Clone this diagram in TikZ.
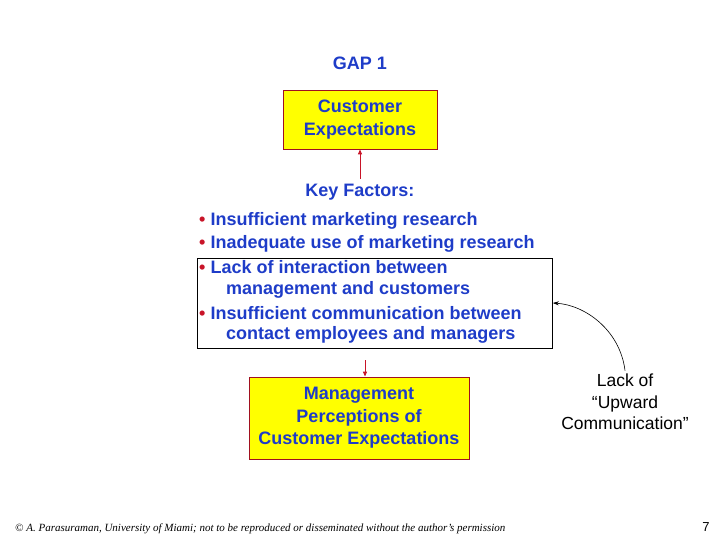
\documentclass[tikz,border=0pt]{standalone}
\usepackage{fontspec}
\setmainfont{Liberation Sans}
\newfontfamily\serifit{Liberation Serif}
\usetikzlibrary{arrows.meta}
\definecolor{tblue}{RGB}{30,60,200}
\definecolor{bred}{RGB}{200,20,40}
\definecolor{byel}{RGB}{255,255,0}
\begin{document}
\begin{tikzpicture}[x=1pt,y=-1pt,
  ybox/.style={draw=bred!80!black,fill=byel,line width=0.8pt,align=center,text=tblue,font=\bfseries\fontsize{18}{22.5}\selectfont,inner sep=0pt},
  btext/.style={text=tblue,font=\bfseries\fontsize{18}{22}\selectfont,anchor=west,inner sep=0pt},
  redarr/.style={draw=bred,line width=1pt,-{Triangle[length=5pt,width=4pt]}}]
\useasboundingbox (0,0) rectangle (720,540);
\node[text=tblue,font=\bfseries\fontsize{18}{22}\selectfont] (gap) at (360,63) {GAP 1};
\node[ybox,minimum width=154pt,minimum height=59pt] (ce) at (360,119.5) {Customer\\Expectations};
\node[text=tblue,font=\bfseries\fontsize{18}{22}\selectfont] (kf) at (360,192) {Key Factors:};
\newcommand{\bul}{{\color{bred}\textbullet}}
\node[btext] (b1) at (199,221) {\bul{} Insufficient marketing research};
\node[btext] (b2) at (199,244) {\bul{} Inadequate use of marketing research};
\node[btext] (b3) at (199,267) {\bul{} Lack of interaction between};
\node[btext] (b3b) at (226,290) {management and customers};
\node[btext] (b4) at (199,313) {\bul{} Insufficient communication between};
\node[btext] (b4b) at (226,335) {contact employees and managers};
\node[draw=black,line width=0.6pt,minimum width=355pt,minimum height=90pt,inner sep=0pt] (fbox) at (375,303) {};
\node[ybox,minimum width=220pt,minimum height=82pt] (mp) at (359,418) {Management\\Perceptions of\\Customer Expectations};
\coordinate (a1) at (360,179);
\draw[redarr] (a1) -- (ce.south);
\coordinate (a2) at (365,360);
\draw[redarr] (a2) -- (mp.north -| a2);
\node[align=center,font=\fontsize{17.5}{21.5}\selectfont] (lu) at (625,402) {Lack of\\“Upward\\Communication”};
\draw[-{Stealth[length=6pt,width=4pt]},line width=0.6pt] (lu.north) .. controls (620,330) and (585,305) .. (fbox.east);
\node[font=\serifit\itshape\fontsize{11}{13}\selectfont,anchor=west,inner sep=0pt] (ft) at (15,529) {© A. Parasuraman, University of Miami; not to be reproduced or disseminated without the author’s permission};
\node[font=\fontsize{13}{15}\selectfont] (pg) at (706,527) {7};
\end{tikzpicture}
\end{document}
